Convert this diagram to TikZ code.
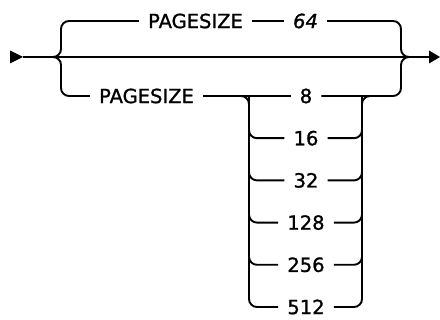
\documentclass[tikz,border=0pt]{standalone}
\usepackage{fontspec}
\setmainfont{DejaVu Sans}[FakeBold=1.2]
\begin{document}
\begin{tikzpicture}[x=1pt,y=-1pt,
  rail/.style={line width=1.9pt, rounded corners=8pt},
  lbl/.style={inner xsep=9pt, inner ysep=0pt, font=\fontsize{19.5}{19.5}\selectfont},
  tipshape/.style={fill=black, draw=none}]
\useasboundingbox (0,0) rectangle (440,320);
% coordinates
\coordinate (start) at (23,57);
\coordinate (finish) at (429,57);
\coordinate (lj) at (52,57);
\coordinate (rj) at (410,57);
% text nodes
\node[lbl] (t1) at (195.5,21) {PAGESIZE};
\node[lbl] (t64) at (305.5,21) {\itshape 64};
\node[lbl] (b1) at (146.5,96) {PAGESIZE};
\node[lbl] (n8) at (306,96) {8};
\node[lbl] (n16) at (306,138.2) {16};
\node[lbl] (n32) at (306,180.4) {32};
\node[lbl] (n128) at (306,222.6) {128};
\node[lbl] (n256) at (306,264.8) {256};
\node[lbl] (n512) at (306,307) {512};
% arrows
\fill[tipshape] (10,50.5) -- (start) -- (10,63.5) -- cycle;
\fill[tipshape] (finish) ++(0,-6.5) -- ++(11,6.5) -- ++(-11,6.5) -- cycle;
% main line
\draw[rail] (start) -- (finish);
% left brace
\draw[rail] (t1.west) -- (61,21) -- (61,57) -- (lj);
\draw[rail] (b1.west) -- (61,96) -- (61,57) -- (lj);
% right brace
\draw[rail] (t64.east) -- (401,21) -- (401,57) -- (rj);
\draw[rail] (n8.east) -- (401,96) -- (401,57) -- (rj);
% top row
\draw[rail] (t1.east) -- (t64.west);
% bottom row
\draw[rail] (b1.east) -- (n8.west);
\draw[rail] (b1.east) -| (n512.west -| 249,0) -- (n512.west);
\draw[rail] (n512.east) -| (362,96) -- (372,96);
\foreach \n in {n16,n32,n128,n256}{
  \draw[rail] (249,96) |- (\n.west);
  \draw[rail] (\n.east) -| (362,96);
}
\end{tikzpicture}
\end{document}
